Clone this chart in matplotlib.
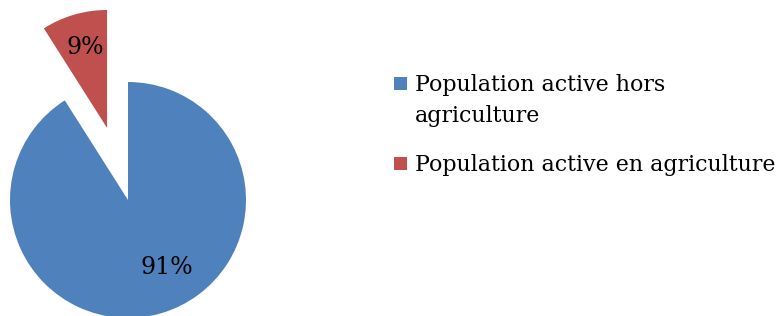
import matplotlib.pyplot as plt
from matplotlib.patches import Rectangle

labels = ['Population active hors\nagriculture', 'Population active en agriculture']
values = [91, 9]
colors = ['#4F81BD', '#C0504D']
explode = [0, 75]

plt.rcParams['font.family'] = ['DejaVu Serif']

fig = plt.figure(figsize=(7.8, 3.16), dpi=100)
ax = fig.add_axes([0, 0, 1, 1])

wedges, texts, autotexts = ax.pie(values, colors=colors, explode=explode,
                                  startangle=90, counterclock=False,
                                  center=(128, 116), radius=118,
                                  autopct='%d%%', pctdistance=0.7,
                                  textprops={'fontsize': 17})
autotexts[0].set_position((167, 49))
autotexts[1].set_position((85, 268))

# legend drawn by hand so the square sits on the first line
legend_y = [225, 145]
for lab, col, yb in zip(labels, colors, legend_y):
    ax.add_patch(Rectangle((394, yb + 1), 13, 13, color=col, lw=0))
    for i, line in enumerate(lab.split('\n')):
        ax.text(415, yb - 31 * i, line, fontsize=15.9, va='baseline', ha='left')

ax.set_xlim(0, 780)
ax.set_ylim(0, 316)
ax.set_aspect('equal')
ax.axis('off')

fig.savefig('out.png', dpi=100)
